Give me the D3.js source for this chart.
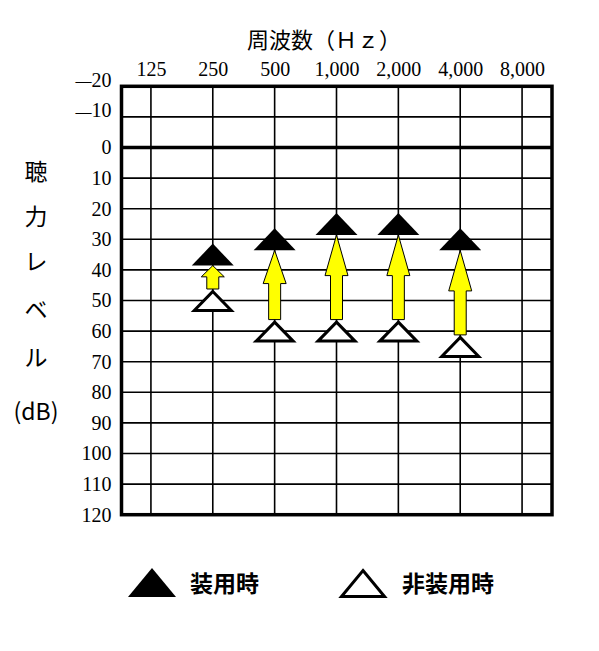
<!DOCTYPE html>
<html>
<head>
<meta charset="utf-8">
<script src="https://cdn.jsdelivr.net/npm/d3@7"></script>
<style>
  body { margin: 0; background: #fff; }
  .tick text { font-family: "Liberation Serif", "DejaVu Serif", serif; font-size: 20px; fill: #000; }
  .jp { font-family: "Noto Sans CJK JP", "Noto Sans", sans-serif; fill: #000; }
</style>
</head>
<body>
<div id="chart"></div>
<script>
// Frequencies (Hz) shown along the top
const freqLabels = ['125', '250', '500', '1,000', '2,000', '4,000', '8,000']
// Hearing level ticks (dB)
const levelTicks = d3.range(-20, 121, 10)
// Aided (装用時) and unaided (非装用時) thresholds, dB
const measuredFreqs = ['250', '500', '1,000', '2,000', '4,000']
const aided = [35, 30, 25, 25, 30]
const unaided = [50, 60, 60, 60, 65]
// Vertical axis title, one glyph per row
const yTitle = ['聴', '力', 'レ', 'ベ', 'ル', '(dB)']
const legendLabels = ['装用時', '非装用時']

const width = 599
const height = 651

const svg = d3.select('#chart').append('svg')
  .attr('width', width)
  .attr('height', height)

const frame = { left: 121.5, right: 552, top: 86.3, bottom: 514.7 }

const x = d3.scalePoint()
  .domain(freqLabels)
  .range([120, 553])
  .padding(0.5)

const y = d3.scaleLinear()
  .domain([-20, 120])
  .range([frame.top, frame.bottom])

// Grid lines
const grid = svg.append('g')
grid.selectAll('line.v')
  .data(freqLabels)
  .enter().append('line')
  .attr('x1', d => x(d)).attr('x2', d => x(d))
  .attr('y1', frame.top).attr('y2', frame.bottom)
  .attr('stroke', '#000').attr('stroke-width', 1.6)

grid.selectAll('line.h')
  .data(levelTicks.filter(d => d > -20 && d < 120))
  .enter().append('line')
  .attr('x1', frame.left).attr('x2', frame.right)
  .attr('y1', d => y(d)).attr('y2', d => y(d))
  .attr('stroke', '#000')
  .attr('stroke-width', d => d === 0 ? 3.5 : 1.6)

// Outer frame
svg.append('rect')
  .attr('x', frame.left).attr('y', frame.top)
  .attr('width', frame.right - frame.left)
  .attr('height', frame.bottom - frame.top)
  .attr('fill', 'none')
  .attr('stroke', '#000')
  .attr('stroke-width', 3.5)

// Axes (labels only)
const xAxis = svg.append('g')
  .attr('transform', `translate(0,${frame.top})`)
  .call(d3.axisTop(x).tickSize(0).tickPadding(10))
xAxis.select('.domain').remove()

const yAxis = svg.append('g')
  .attr('transform', `translate(${frame.left},0)`)
  .call(d3.axisLeft(y).tickValues(levelTicks).tickSize(0).tickPadding(10))
yAxis.select('.domain').remove()

// Negative levels get a long dash instead of a hyphen
yAxis.selectAll('.tick text')
  .filter(d => d < 0)
  .text(null)
  .each(function (d) {
    const t = d3.select(this)
    t.append('tspan').attr('font-size', 16).attr('dy', '-0.02em').text('\u2014')
    t.append('tspan').attr('dy', '0.02em').text(Math.abs(d))
  })

// Titles
svg.append('text')
  .attr('class', 'jp')
  .attr('x', 324).attr('y', 48)
  .attr('text-anchor', 'middle')
  .attr('font-size', 22)
  .text('周波数（Ｈｚ）')

const titleY = [172, 217, 262, 310, 358, 412]
svg.selectAll('text.ytitle')
  .data(yTitle)
  .enter().append('text')
  .attr('class', 'jp ytitle')
  .attr('x', 36)
  .attr('y', (d, i) => titleY[i])
  .attr('dy', '0.36em')
  .attr('text-anchor', 'middle')
  .attr('font-size', 23)
  .text(d => d)

// Markers
const triHalfW = 21
const triHalfH = 11
const filledTri = (cx, cy, hw, hh) => `M${cx},${cy - hh}L${cx + hw},${cy + hh}L${cx - hw},${cy + hh}Z`

const points = measuredFreqs.map((f, i) => ({ f, a: aided[i], u: unaided[i] }))

// Arrows from unaided up to aided
svg.append('g').selectAll('path')
  .data(points)
  .enter().append('path')
  .attr('d', d => {
    const cx = x(d.f)
    const tip = y(d.a) + triHalfH
    const bottom = y(d.u) - triHalfH - 0.5
    const headLen = (bottom - tip) * 0.48
    const hw = 11.5
    const sw = 6
    return `M${cx},${tip}L${cx + hw},${tip + headLen}L${cx + sw},${tip + headLen}` +
      `L${cx + sw},${bottom}L${cx - sw},${bottom}L${cx - sw},${tip + headLen}L${cx - hw},${tip + headLen}Z`
  })
  .attr('fill', '#ffff00')
  .attr('stroke', '#000')
  .attr('stroke-width', 1)

svg.append('g').selectAll('path')
  .data(points)
  .enter().append('path')
  .attr('d', d => filledTri(x(d.f), y(d.a), triHalfW, triHalfH))
  .attr('fill', '#000')

svg.append('g').selectAll('path')
  .data(points)
  .enter().append('path')
  .attr('d', d => filledTri(x(d.f), y(d.u) + 0.5, 18.5, 9.5))
  .attr('fill', '#fff')
  .attr('stroke', '#000')
  .attr('stroke-width', 3)

// Legend
const legendX = [152, 363]
const legendTextX = [190, 402]
const legend = svg.append('g').selectAll('g')
  .data(legendLabels)
  .enter().append('g')

legend.append('path')
  .attr('d', (d, i) => i === 0
    ? filledTri(legendX[i], 582.5, 24, 14.5)
    : filledTri(legendX[i], 583.5, 21.5, 13))
  .attr('fill', (d, i) => i === 0 ? '#000' : '#fff')
  .attr('stroke', (d, i) => i === 0 ? 'none' : '#000')
  .attr('stroke-width', 3)

legend.append('text')
  .attr('class', 'jp')
  .attr('x', (d, i) => legendTextX[i])
  .attr('y', 584)
  .attr('dy', '0.36em')
  .attr('font-size', 23)
  .attr('font-weight', 'bold')
  .text(d => d)
</script>
</body>
</html>
